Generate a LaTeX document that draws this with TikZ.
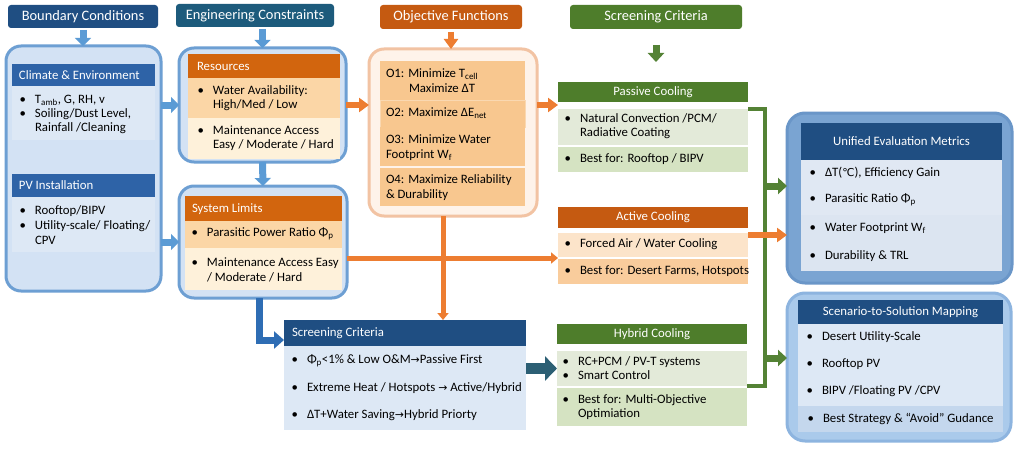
\documentclass[tikz,border=0pt]{standalone}
\usepackage{fontspec}
\setmainfont{Carlito}
\newfontfamily\arrfont{DejaVu Sans}[Scale=0.85]
\usetikzlibrary{arrows.meta}

\definecolor{navy}{HTML}{1F4E82}
\definecolor{tealhd}{HTML}{1D5B7C}
\definecolor{orghd}{HTML}{C55A11}
\definecolor{grnhd}{HTML}{4E7D2B}
\definecolor{bluehd}{HTML}{2E63A7}
\definecolor{contfill}{HTML}{D3E2F4}
\definecolor{contline}{HTML}{6D9FD3}
\definecolor{cardfill}{HTML}{DDE8F5}
\definecolor{resorg}{HTML}{D2650E}
\definecolor{lorg}{HTML}{FBD6A6}
\definecolor{cream}{HTML}{FEF1DA}
\definecolor{objfill}{HTML}{F8C78F}
\definecolor{objbg}{HTML}{FEF3EA}
\definecolor{objline}{HTML}{F2C3A3}
\definecolor{lgrn}{HTML}{E3EAD9}
\definecolor{mgrn}{HTML}{D5E3C2}
\definecolor{apch}{HTML}{FCE4CA}
\definecolor{apch2}{HTML}{F9CC9C}
\definecolor{arrblue}{HTML}{5B9BD5}
\definecolor{darkblue}{HTML}{2E6DB4}
\definecolor{arrorg}{HTML}{ED7D31}
\definecolor{arrgrn}{HTML}{548235}
\definecolor{arrteal}{HTML}{2C5F74}
\definecolor{unibg}{HTML}{7AA4D2}
\definecolor{uniline}{HTML}{6A96C8}
\definecolor{unibody}{HTML}{E0E8F3}
\definecolor{unibody2}{HTML}{DCE5F1}
\definecolor{scenbg}{HTML}{AACAEB}
\definecolor{scenline}{HTML}{8DB4DF}
\definecolor{scenlast}{HTML}{C4D7ED}

\newcommand\bul{\llap{\textbullet\hskip 9pt}}

\begin{document}
\begin{tikzpicture}[x=1pt, y=-1pt,
  every node/.style={inner sep=0pt, outer sep=0pt},
  box/.style 2 args={anchor=north west, minimum width=#1pt, minimum height=#2pt},
  hdr/.style={text=white, rounded corners=3pt, font=\fontsize{14.4}{16}\selectfont},
  cont/.style={rounded corners=15pt, line width=3pt},
  wt/.style={anchor=west, text=white, font=\fontsize{12.8}{14}\selectfont},
  ct/.style={text=white, font=\fontsize{12.8}{14}\selectfont},
  tx/.style={anchor=west, align=left, font=\fontsize{12.8}{14.5}\selectfont},
  barrow/.style={draw=arrblue, line width=7pt, -{Triangle[width=16pt,length=8pt]}},
  oarrow/.style={draw=arrorg, line width=6pt, -{Triangle[width=14pt,length=10pt]}},
  oline/.style={draw=arrorg, line width=5pt, -{Triangle[width=11pt,length=7pt]}},
  garrow/.style={draw=arrgrn, line width=7pt, -{Triangle[width=16pt,length=9pt]}},
  gline/.style={draw=arrgrn, line width=4pt}]
\useasboundingbox[fill=white] (0,0) rectangle (1015,452);

% column headers
\node[box={150}{23}, hdr, fill=navy] (bch) at (8,5) {Boundary Conditions};
\node[box={158}{23}, hdr, fill=tealhd] (ech) at (176,4) {Engineering Constraints};
\node[box={142}{24}, hdr, fill=orghd] (ofh) at (380,5) {Objective Functions};
\node[box={172}{24}, hdr, fill=grnhd] (sch) at (570,5) {Screening Criteria};

% boundary conditions
\node[box={155}{245}, cont, fill=contfill, draw=contline] (bcc) at (6,46) {};
\node[box={143}{22}, fill=bluehd] (clh) at (12,64) {};
\node[box={143}{54}, fill=cardfill] (clb) at (12,86) {};
\node[wt] (clt) at (19,75) {Climate \& Environment};
\node[tx, font=\fontsize{12.8}{14}\selectfont] (clx) at (35,114)
  {\bul T\textsubscript{amb}, G, RH, v\\\bul Soiling/Dust Level,\\Rainfall /Cleaning};
\node[box={143}{23}, fill=bluehd] (pvh) at (12,174) {};
\node[box={143}{55}, fill=cardfill] (pvb) at (12,197) {};
\node[wt] (pvt) at (19,185) {PV Installation};
\node[tx, font=\fontsize{12.8}{15}\selectfont] (pvx) at (35,225)
  {\bul Rooftop/BIPV\\\bul Utility-scale/ Floating/\\CPV};

% engineering constraints
\node[box={167}{114}, cont, fill=contfill, draw=contline] (ecA) at (179,48) {};
\node[box={152}{24}, fill=resorg] (rsh) at (188,54) {};
\node[box={152}{40}, fill=lorg] (rs1) at (188,78) {};
\node[box={152}{41}, fill=cream] (rs2) at (188,118) {};
\node[wt] (rst) at (197,66) {Resources};
\node[tx] (rsx1) at (213,98) {\bul Water Availability:\\High/Med / Low};
\node[tx] (rsx2) at (213,138) {\bul Maintenance Access\\Easy / Moderate / Hard};

\node[box={168}{112}, cont, fill=contfill, draw=contline] (ecB) at (179,186) {};
\node[box={157}{25}, fill=resorg] (slh) at (185,196) {};
\node[box={157}{27}, fill=lorg] (sl1) at (185,221) {};
\node[box={157}{42}, fill=cream] (sl2) at (185,248) {};
\node[wt] (slt) at (192,209) {System Limits};
\node[tx] (slx1) at (207,234) {\bul Parasitic Power Ratio Φ\textsubscript{p}};
\node[tx] (slx2) at (207,270) {\bul Maintenance Access Easy\\/ Moderate / Hard};

% objective functions
\node[box={168}{167}, cont, fill=objbg, draw=objline] (obj) at (369,49) {};
\node[box={145}{39}, fill=objfill] (o1) at (380,61) {};
\node[box={145}{27}, fill=objfill, draw=objfill!70!white, line width=0.6pt] (o2) at (380,100) {};
\node[box={145}{39}, fill=objfill] (o3) at (380,127) {};
\node[box={145}{38}, fill=objfill] (o4) at (380,168) {};
\node[tx, font=\fontsize{12.8}{15}\selectfont] (ox1) at (386,81) {O1: Minimize T\textsubscript{cell}\\\hspace*{23pt}Maximize ΔT};
\node[tx] (ox2) at (386,113) {O2: Maximize ΔE\textsubscript{net}};
\node[tx, font=\fontsize{12.8}{15}\selectfont] (ox3) at (386,148) {O3: Minimize Water\\Footprint W\textsubscript{f}};
\node[tx, font=\fontsize{12.8}{15}\selectfont] (ox4) at (386,188) {O4: Maximize Reliability\\\& Durability};

% cooling options
\node[box={190}{20}, ct, fill=grnhd] (pash) at (558,82) {Passive Cooling};
\node[box={190}{36}, fill=lgrn] (pas1) at (558,109) {};
\node[box={190}{25}, fill=mgrn] (pas2) at (558,147) {};
\node[tx] (pax1) at (580,126) {\bul Natural Convection /PCM/\\Radiative Coating};
\node[tx] (pax2) at (580,159) {\bul Best for: Rooftop / BIPV};

\node[box={190}{21}, ct, fill=orghd] (acth) at (558,207) {Active Cooling};
\node[box={190}{24}, fill=apch] (act1) at (558,233) {};
\node[box={190}{25}, fill=apch2] (act2) at (558,259) {};
\node[tx] (acx1) at (580,244) {\bul Forced Air / Water Cooling};
\node[tx] (acx2) at (580,271) {\bul Best for: Desert Farms, Hotspots};

\node[box={190}{20}, ct, fill=grnhd] (hybh) at (557,324) {Hybrid Cooling};
\node[box={190}{35}, fill=lgrn] (hyb1) at (557,351) {};
\node[box={190}{38}, fill=mgrn] (hyb2) at (557,388) {};
\node[tx] (hyx1) at (578,368) {\bul RC+PCM / PV-T systems\\\bul Smart Control};
\node[tx] (hyx2) at (578,407) {\bul Best for: Multi-Objective\\Optimiation};

% screening criteria
\node[box={242}{26}, fill=navy] (scrh) at (284,320) {};
\node[box={242}{84}, fill=cardfill] (scrb) at (284,346) {};
\node[wt] (scrt) at (292,333) {Screening Criteria};
\node[tx] (scx1) at (307,361) {\bul Φ\textsubscript{p}<1\% \& Low O\&M{\arrfont →}Passive First};
\node[tx] (scx2) at (307,388) {\bul Extreme Heat / Hotspots {\arrfont →} Active/Hybrid};
\node[tx] (scx3) at (307,415) {\bul ΔT+Water Saving{\arrfont →}Hybrid Priorty};

% unified metrics
\node[box={225}{170}, cont, rounded corners=18pt, fill=unibg, draw=uniline] (uni) at (787,113) {};
\node[box={201}{37}, ct, fill=navy] (unih) at (801,123) {Unified Evaluation Metrics};
\node[box={201}{55}, fill=unibody] (uni1) at (801,160) {};
\node[box={201}{56}, fill=unibody2] (uni2) at (801,215) {};
\node[tx] (unx1) at (825,173) {\bul ΔT({\arrfont ℃}), Efficiency Gain};
\node[tx] (unx2) at (825,200) {\bul Parasitic Ratio Φ\textsubscript{p}};
\node[tx] (unx3) at (825,228) {\bul Water Footprint W\textsubscript{f}};
\node[tx] (unx4) at (825,256) {\bul Durability \& TRL};

% scenario mapping
\node[box={224}{148}, cont, rounded corners=18pt, fill=scenbg, draw=scenline] (scen) at (787,293) {};
\node[box={205}{24}, ct, fill=navy] (scnh) at (798,300) {Scenario-to-Solution Mapping};
\node[box={205}{82}, fill=cardfill] (scn1) at (798,324) {};
\node[box={205}{26}, fill=scenlast] (scn2) at (798,406) {};
\node[tx] (snx1) at (822,337) {\bul Desert Utility-Scale};
\node[tx] (snx2) at (822,364) {\bul Rooftop PV};
\node[tx] (snx3) at (822,391) {\bul BIPV /Floating PV /CPV};
\node[tx] (snx4) at (823,419) {\bul Best Strategy \& “Avoid” Gudance};

% arrows
\draw[barrow, shorten <=2pt] (bch.south) -- (bch.south |- bcc.north);
\draw[barrow, shorten <=2pt] (ecA.north |- ech.south) -- (ecA.north);
\draw[oarrow, shorten <=3pt] (ofh.south) -- (ofh.south |- obj.north);
\draw[garrow, shorten <=16pt, shorten >=20pt] (sch.south) -- (sch.south |- pash.north);
\draw[barrow] (ecA.west -| bcc.east) -- (ecA.west);
\draw[barrow] (ecB.west -| bcc.east) -- (ecB.west);
\draw[barrow] (ecA.south) -- (ecB.north);
\draw[oarrow] (ecA.east) -- (ecA.east -| obj.west);
\draw[oarrow] (ecA.east -| obj.east) -- (ecA.east -| pas1.west);

\coordinate (ov) at ([xshift=-10pt]obj.south);
\coordinate (oh) at ([yshift=-16pt]ecB.east);
\draw[oline] (oh) -- (oh -| act1.west);
\draw[oline] (ov) -- (ov |- scrh.north);

\coordinate (eb) at ([xshift=-4pt]ecB.south);
\coordinate (sh) at ([yshift=-7pt]scrh.west);
\draw[draw=darkblue, line width=7pt, -{Triangle[width=17pt,length=10pt]}] (eb) |- (sh);
\draw[draw=arrteal, line width=11pt, -{Triangle[width=24pt,length=12pt]}] (hyb1.west -| scrb.east) -- (hyb1.west);

\draw[gline] (pas1.north east) -- ++(17,0) coordinate (gtop) -- (gtop |- hyb1.south east) -- (hyb1.south east);
\coordinate (u1) at ([yshift=12pt]uni.west);
\coordinate (u2) at ([yshift=-37pt]uni.west);
\coordinate (s1) at ([yshift=9pt]scen.west);
\draw[garrow] (gtop |- u1) -- (u1);
\draw[oarrow] (act1.east |- u2) -- (u2);
\draw[garrow] (gtop |- s1) -- (s1);
\end{tikzpicture}
\end{document}
